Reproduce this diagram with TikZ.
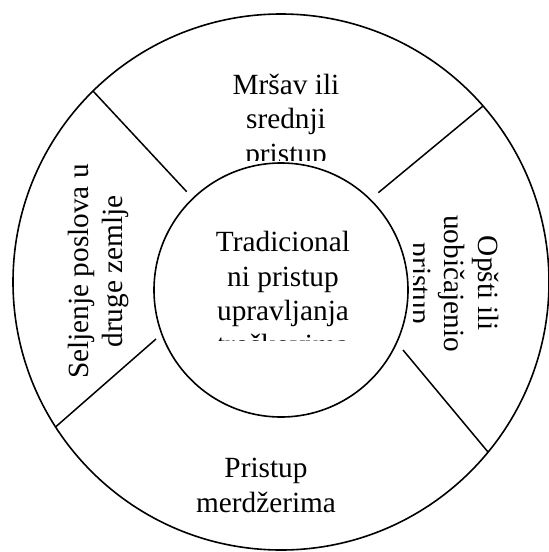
\documentclass[tikz,border=0pt]{standalone}
\usepackage{fontspec}
\setmainfont{Liberation Serif}
\begin{document}
\begin{tikzpicture}[x=1pt,y=-1pt,
  ring/.style={draw=black, line width=1.6pt, circle, inner sep=0pt, outer sep=0pt},
  spoke/.style={draw=black, line width=1.5pt},
  lbl/.style={align=center, anchor=base, inner sep=0pt,
              font=\fontsize{29.3}{34.4}\selectfont},
]
\useasboundingbox (0,0) rectangle (549,552);

% outer ring
\node[ring, minimum size=536pt] (outer) at (281,282) {};

% spoke end points
\coordinate (ulo) at (93,91);     \coordinate (uli) at (186.7,191.7);
\coordinate (uro) at (483,106);   \coordinate (uri) at (378.3,192.7);
\coordinate (llo) at (55.5,427);  \coordinate (lli) at (156,339);
\coordinate (lro) at (488,452);   \coordinate (lri) at (403,350);

\draw[spoke] (ulo) -- (uli);
\draw[spoke] (uro) -- (uri);
\draw[spoke] (llo) -- (lli);
\draw[spoke] (lro) -- (lri);

% top sector (anchored on the baseline of its last line)
\begin{scope}
  \clip (0,0) rectangle (549,160.5);
  \node[lbl] (top) at (286,163.1) {Mršav ili\\srednji\\pristup};
\end{scope}

% right sector
\begin{scope}
  \clip (413,0) rectangle (549,552);
  \node[lbl, rotate=-90, font=\fontsize{29.3}{33.3}\selectfont] (right) at (411.4,283.5)
    {Opšti ili\\uobičajenio\\pristup};
\end{scope}

% left sector
\node[lbl, rotate=90] (left) at (122.4,271.5) {Seljenje poslova u\\druge zemlje};

% bottom sector
\node[lbl] (bottom) at (266,512.1) {Pristup\\merdžerima};

% inner circle
\node[ring, minimum size=254pt] (inner) at (281,290) {};

% centre text
\begin{scope}
  \clip (0,0) rectangle (549,340.5);
  \node[lbl] (centre) at (283,354.9)
    {Tradicional\\ni pristup\\upravljanja\\troškovima};
\end{scope}
\end{tikzpicture}
\end{document}
